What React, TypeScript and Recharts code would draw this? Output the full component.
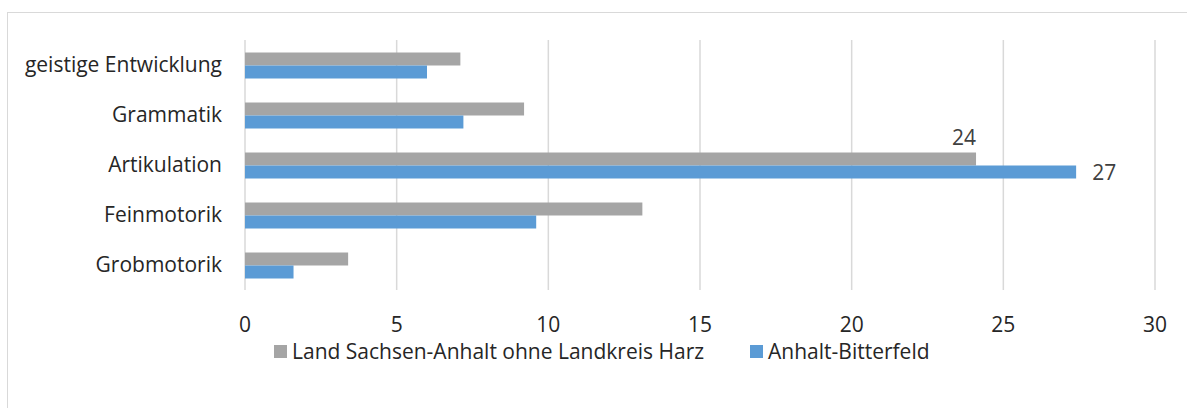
import { BarChart, Bar, XAxis, YAxis, CartesianGrid, Legend, LabelList } from 'recharts';

const categories = ['geistige Entwicklung', 'Grammatik', 'Artikulation', 'Feinmotorik', 'Grobmotorik'];
const landValues = [7.1, 9.2, 24.1, 13.1, 3.4];
const anhaltValues = [6.0, 7.2, 27.4, 9.6, 1.6];
// only Artikulation carries a data label in the original
const landLabels = [null, null, 24, null, null];
const anhaltLabels = [null, null, 27, null, null];
const xTicks = [0, 5, 10, 15, 20, 25, 30];

const SERIES_LAND = 'Land Sachsen-Anhalt ohne Landkreis Harz';
const SERIES_ANHALT = 'Anhalt-Bitterfeld';
const legendOrder = [SERIES_LAND, SERIES_ANHALT];

const data = categories.map((name, i) => ({
  name,
  land: landValues[i],
  anhalt: anhaltValues[i],
  landLabel: landLabels[i],
  anhaltLabel: anhaltLabels[i],
}));

const FONT = '"Open Sans", sans-serif';
const FS = 21;

const topLabel = (props: any) => {
  const { x, y, width, value } = props;
  if (value == null) return null;
  return (
    <text x={x + width} y={y - 8} textAnchor="end" fill="#404040" fontSize={FS} fontFamily={FONT}>
      {value}
    </text>
  );
};

const rightLabel = (props: any) => {
  const { x, y, width, height, value } = props;
  if (value == null) return null;
  return (
    <text x={x + width + 16} y={y + height / 2} dominantBaseline="central" fill="#404040" fontSize={FS} fontFamily={FONT}>
      {value}
    </text>
  );
};

const renderLegend = (props: any) => {
  const items = [...(props.payload || [])].sort(
    (a: any, b: any) => legendOrder.indexOf(a.value) - legendOrder.indexOf(b.value)
  );
  return (
    <div style={{ display: 'flex', alignItems: 'center', fontFamily: FONT, fontSize: FS, color: '#262626', whiteSpace: 'nowrap' }}>
      {items.map((p: any, i: number) => (
        <div key={p.value} style={{ display: 'flex', alignItems: 'center', marginRight: i === 0 ? 46 : 0 }}>
          <span style={{ display: 'inline-block', width: 13, height: 13, background: p.color, marginRight: 5 }} />
          <span>{p.value}</span>
        </div>
      ))}
    </div>
  );
};

export default function App() {
  return (
    <div style={{ position: 'absolute', left: 0, top: 0, width: 1187, height: 408, overflow: 'hidden', background: '#fff' }}>
      <div
        style={{
          position: 'absolute',
          left: 7,
          top: 12,
          width: 1200,
          height: 420,
          borderLeft: '1px solid #d9d9d9',
          borderTop: '1px solid #d9d9d9',
        }}
      />
      <BarChart
        width={1187}
        height={408}
        data={data}
        layout="vertical"
        barGap={0}
        barCategoryGap="25%"
        margin={{ top: 40, right: 32, bottom: 68, left: 0 }}
        style={{ position: 'absolute', left: 0, top: 0 }}
      >
        <CartesianGrid horizontal={false} stroke="#d9d9d9" strokeWidth={1.5} />
        <XAxis
          type="number"
          domain={[0, 30]}
          ticks={xTicks}
          axisLine={false}
          tickLine={false}
          tickSize={0}
          tickMargin={27}
          height={50}
          interval={0}
          tick={{ fill: '#262626', fontSize: FS, fontFamily: FONT }}
        />
        <YAxis
          type="category"
          dataKey="name"
          width={245}
          axisLine={false}
          tickLine={false}
          tickSize={0}
          tickMargin={23}
          interval={0}
          tick={{ fill: '#262626', fontSize: FS, fontFamily: FONT }}
        />
        <Legend
          verticalAlign="middle"
          align="center"
          content={renderLegend}
          wrapperStyle={{ top: 337, left: 274, width: 'auto' }}
        />
        <Bar dataKey="land" name={SERIES_LAND} fill="#A5A5A5" isAnimationActive={false}>
          <LabelList dataKey="landLabel" content={topLabel} />
        </Bar>
        <Bar dataKey="anhalt" name={SERIES_ANHALT} fill="#5B9BD5" isAnimationActive={false}>
          <LabelList dataKey="anhaltLabel" content={rightLabel} />
        </Bar>
      </BarChart>
    </div>
  );
}
